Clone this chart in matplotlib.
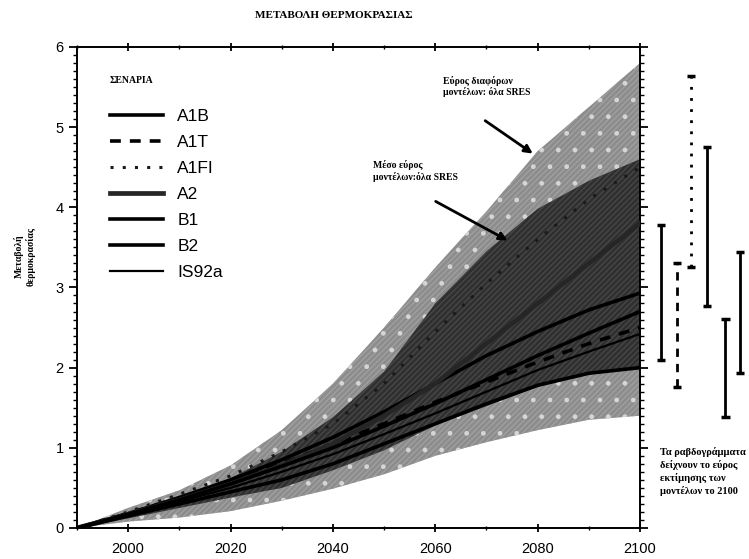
import matplotlib
matplotlib.use("Agg")
import matplotlib.pyplot as plt
from matplotlib.ticker import MultipleLocator

# data
years = [1990, 2000, 2010, 2020, 2030, 2040, 2050, 2060, 2070, 2080, 2090, 2100]

all_upper = [0, 0.25, 0.47, 0.78, 1.22, 1.8, 2.5, 3.25, 3.95, 4.7, 5.25, 5.8]
all_lower = [0, 0.08, 0.13, 0.21, 0.34, 0.49, 0.67, 0.9, 1.07, 1.22, 1.35, 1.4]
mid_upper = [0, 0.18, 0.38, 0.62, 0.95, 1.38, 1.95, 2.8, 3.45, 3.98, 4.33, 4.6]
mid_lower = [0, 0.12, 0.25, 0.38, 0.5, 0.72, 0.97, 1.28, 1.52, 1.76, 1.92, 2.0]

scenarios = ["A1B", "A1T", "A1FI", "A2", "B1", "B2", "IS92a"]
scen_values = {
    "A1B":   [0, 0.18, 0.38, 0.6, 0.85, 1.13, 1.45, 1.8, 2.15, 2.45, 2.72, 2.93],
    "A1T":   [0, 0.18, 0.37, 0.57, 0.8, 1.05, 1.3, 1.57, 1.82, 2.07, 2.3, 2.5],
    "A1FI":  [0, 0.2, 0.42, 0.65, 0.95, 1.3, 1.8, 2.45, 3.05, 3.6, 4.1, 4.5],
    "A2":    [0, 0.17, 0.35, 0.55, 0.78, 1.05, 1.4, 1.8, 2.3, 2.8, 3.3, 3.8],
    "B1":    [0, 0.15, 0.3, 0.45, 0.6, 0.8, 1.05, 1.3, 1.55, 1.78, 1.93, 2.0],
    "B2":    [0, 0.17, 0.35, 0.55, 0.77, 1.0, 1.27, 1.55, 1.85, 2.15, 2.43, 2.7],
    "IS92a": [0, 0.17, 0.33, 0.5, 0.7, 0.92, 1.17, 1.43, 1.7, 1.97, 2.2, 2.42],
}

# model ranges in 2100 (bars right of the plot)
bar_names = ["A1B", "A1T", "A1FI", "A2", "B1", "B2"]
bar_low = [2.09, 1.76, 3.25, 2.77, 1.38, 1.93]
bar_high = [3.78, 3.30, 5.64, 4.75, 2.61, 3.44]

# styles / layout
styles = {
    "A1B":   dict(ls="-", lw=2.6, c="black"),
    "A1T":   dict(ls=(0, (3, 2.5)), lw=2.6, c="black"),
    "A1FI":  dict(ls=(0, (1, 3)), lw=2.2, c="#1a1a1a"),
    "A2":    dict(ls="-", lw=3.4, c="#262626"),
    "B1":    dict(ls="-", lw=2.6, c="black"),
    "B2":    dict(ls="-", lw=2.6, c="black"),
    "IS92a": dict(ls="-", lw=1.6, c="black"),
}
bar_x = [2104.1, 2107.3, 2110.0, 2113.1, 2116.7, 2119.6]
serif = ["Liberation Serif", "DejaVu Serif"]
sans = ["Liberation Sans", "DejaVu Sans"]

plt.rcParams["font.family"] = sans
plt.rcParams["hatch.linewidth"] = 1.0

fig = plt.figure(figsize=(7.49, 5.59), dpi=100)
ax = fig.add_axes([0.1028, 0.0555, 0.7517, 0.8605])

# bands
ax.fill_between(years, all_lower, all_upper, facecolor="#8c8c8c",
                edgecolor="#a0a0a0", hatch="//////", linewidth=0, zorder=1)
ax.fill_between(years, all_lower, all_upper, facecolor="none",
                edgecolor="#d6d6d6", hatch=".", linewidth=0, zorder=1)
ax.fill_between(years, mid_lower, mid_upper, facecolor="#2f2f2f",
                edgecolor="#474747", hatch="//////", linewidth=0, zorder=2)

# scenario lines
handles = []
for name in scenarios:
    st = styles[name]
    ln, = ax.plot(years, scen_values[name], color=st["c"], linestyle=st["ls"],
                  linewidth=st["lw"], label=name, zorder=3)
    handles.append(ln)

# range bars at 2100
for name, x, lo, hi in zip(bar_names, bar_x, bar_low, bar_high):
    st = styles[name]
    ax.vlines(x, lo, hi, colors="black", linestyles=[st["ls"]],
              linewidth=2.0, clip_on=False)
    ax.hlines([lo, hi], x - 0.8, x + 0.8, colors="black", linewidth=2.5,
              clip_on=False)

ax.set_xlim(1990, 2100)
ax.set_ylim(0, 6)
ax.set_xticks(range(2000, 2101, 20))
ax.xaxis.set_minor_locator(MultipleLocator(10))
ax.yaxis.set_major_locator(MultipleLocator(1))
ax.yaxis.set_minor_locator(MultipleLocator(0.1))
ax.tick_params(axis="both", which="major", labelsize=10.5, length=6, width=1.3,
               direction="out", top=True, right=True)
ax.tick_params(axis="both", which="minor", length=3, width=1.0,
               direction="out", top=True, right=True)
ax.tick_params(axis="x", which="both", direction="inout")
ax.tick_params(axis="x", which="major", pad=7)
for sp in ax.spines.values():
    sp.set_linewidth(1.4)

leg = ax.legend(handles=handles, loc="upper left", bbox_to_anchor=(0.03, 0.972),
                frameon=False, fontsize=12.5, handlelength=3.1,
                labelspacing=0.63, handletextpad=0.8,
                title="ΣΕΝΑΡΙΑ", alignment="left",
                title_fontproperties=dict(family=serif, weight="bold", size=7))
leg._legend_box.sep = 17

# annotations
ax.annotate("Εύρος διαφόρων\nμοντέλων: όλα SRES", xy=(2079.5, 4.65),
            xytext=(2061.5, 5.64), ha="left", va="top",
            fontsize=7, fontweight="bold", family=serif, zorder=5)
ax.annotate("", xy=(2079.5, 4.65), xytext=(2069.3, 5.10),
            arrowprops=dict(arrowstyle="-|>", color="black", lw=2,
                            mutation_scale=12), zorder=5)
ax.annotate("Μέσο εύρος\nμοντέλων:όλα SRES", xy=(2074.6, 3.57),
            xytext=(2047.8, 4.59), ha="left", va="top",
            fontsize=7, fontweight="bold", family=serif, zorder=5)
ax.annotate("", xy=(2074.6, 3.57), xytext=(2059.6, 4.09),
            arrowprops=dict(arrowstyle="-|>", color="black", lw=2,
                            mutation_scale=12), zorder=5)

fig.text(0.446, 0.972, "ΜΕΤΑΒΟΛΗ ΘΕΡΜΟΚΡΑΣΙΑΣ", ha="center", va="center",
         fontsize=8, fontweight="bold", family=serif)
fig.text(0.033, 0.542, "Μεταβολή\nθερμοκρασίας", ha="center", va="center",
         rotation=90, fontsize=7, fontweight="bold", family=serif,
         linespacing=1.2)
fig.text(0.881, 0.2, "Τα ραβδογράμματα\nδείχνουν το εύρος\nεκτίμησης των\nμοντέλων το 2100",
         ha="left", va="top", fontsize=7.5, fontweight="bold", family=serif,
         linespacing=1.35)

fig.savefig("out.png", dpi=100)
